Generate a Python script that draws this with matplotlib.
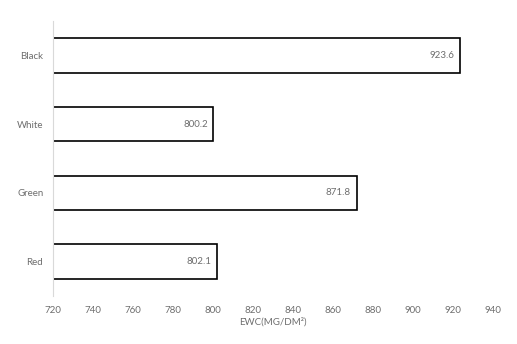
import matplotlib
matplotlib.use('Agg')
import matplotlib.pyplot as plt

categories = ['Black', 'White', 'Green', 'Red']
values = [923.6, 800.2, 871.8, 802.1]
xticks = [720, 740, 760, 780, 800, 820, 840, 860, 880, 900, 920, 940]

plt.rcParams['font.family'] = ['Lato', 'DejaVu Sans']
grey = '#6e6e6e'

fig = plt.figure(figsize=(5.17, 3.44), dpi=100)
ax = fig.add_axes([53/517, 48/344, 440/517, 275/344])

ypos = list(range(len(categories)))
ax.barh(ypos, [v - 720 for v in values], left=720, height=0.5,
        color='white', edgecolor='black', linewidth=1.2)

for y, v in zip(ypos, values):
    ax.annotate(f'{v:.1f}', xy=(v, y), xytext=(-4, 0), textcoords='offset points',
                ha='right', va='center', fontsize=7, color=grey)

ax.set_xlim(720, 940)
ax.set_ylim(len(categories) - 0.5, -0.5)
ax.set_yticks(ypos)
ax.set_yticklabels(categories)
ax.set_xticks(xticks)
ax.tick_params(axis='both', length=0, labelsize=7, colors=grey)
ax.tick_params(axis='x', pad=7)
ax.tick_params(axis='y', pad=7)
for s in ['top', 'right', 'bottom']:
    ax.spines[s].set_visible(False)
ax.spines['left'].set_color('#d9d9d9')
ax.spines['left'].set_linewidth(0.8)
ax.set_xlabel('EWC(MG/DM²)', fontsize=7, color=grey, labelpad=2)

fig.savefig('out.png', dpi=100)
